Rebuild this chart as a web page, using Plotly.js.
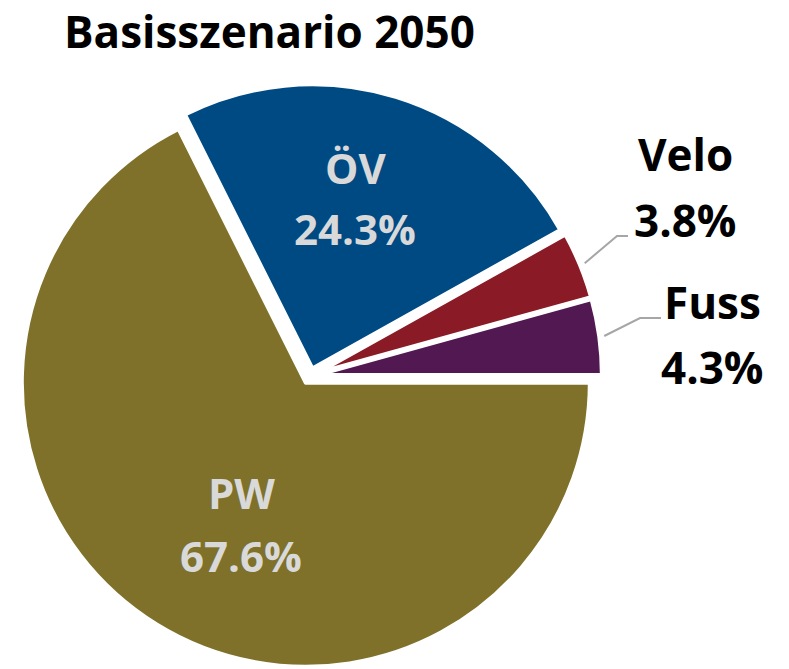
<!DOCTYPE html>
<html>
<head>
<meta charset="utf-8">
<script src="https://cdn.plot.ly/plotly-3.0.1.min.js"></script>
<style>html,body{margin:0;padding:0;background:#fff;}#chart{width:789px;height:669px;}</style>
</head>
<body>
<div id="chart"></div>
<script>
// ---- data ----
var categories = ["Fuss", "Velo", "ÖV", "PW"];
var shares = [4.3, 3.8, 24.3, 67.6];
var sliceColors = ["#521852", "#8a1b26", "#004a84", "#7f7129"];
var chartTitle = "Basisszenario 2050";

// ---- geometry (layout) ----
var W = 789, H = 669;
var CX = 310, CY = 376, R = 284, PULL = 0.028;
var half = R * (1 + PULL);
var FONT = "Open Sans, Lato, sans-serif";

var total = shares.reduce(function (a, b) { return a + b; }, 0);

var trace = {
  type: "pie",
  labels: categories,
  values: shares,
  sort: false,
  direction: "counterclockwise",
  // first slice (Fuss) begins at 3 o'clock and runs counterclockwise
  rotation: 90 - 360 * shares[0] / total,
  pull: PULL,
  marker: { colors: sliceColors, line: { color: "#ffffff", width: 4 } },
  textinfo: "none",
  hoverinfo: "label+percent",
  showlegend: false,
  domain: {
    x: [(CX - half) / W, (CX + half) / W],
    y: [(H - (CY + half)) / H, (H - (CY - half)) / H]
  }
};

function midAngle(i) {
  var before = 0;
  for (var k = 0; k < i; k++) before += shares[k];
  return (before + shares[i] / 2) / total * 2 * Math.PI; // ccw from 3 o'clock
}
function px2paper(x, y) { return [x / W, 1 - y / H]; }
function pctText(i) { return (shares[i] / total * 100).toFixed(1) + "%"; }

// label placement (layout): text anchor pixels for name line and percent line
var labelPlaces = [
  { idx: 0, x: 712, nameY: 302, pctY: 367, color: "#000000", size: 44,
    leader: { elbow: [640, 318], end: [661, 318] } },
  { idx: 1, x: 685, nameY: 154, pctY: 220, color: "#000000", size: 44,
    leader: { elbow: [617, 236], end: [628, 236] } },
  { idx: 2, x: 355, nameY: 167, pctY: 229, color: "#d9d9d9", size: 42 },
  { idx: 3, x: 241, nameY: 492, pctY: 555, color: "#d9d9d9", size: 42 }
];

var annotations = [], shapes = [];
labelPlaces.forEach(function (o) {
  var f = { family: FONT, size: o.size, color: o.color, weight: 700 };
  var n = px2paper(o.x, o.nameY), p = px2paper(o.x, o.pctY);
  annotations.push({
    xref: "paper", yref: "paper", x: n[0], y: n[1], xanchor: "center", yanchor: "middle",
    showarrow: false, text: categories[o.idx], font: f
  });
  annotations.push({
    xref: "paper", yref: "paper", x: p[0], y: p[1], xanchor: "center", yanchor: "middle",
    showarrow: false, text: pctText(o.idx), font: f
  });
  if (o.leader) {
    var a = midAngle(o.idx);
    var rr = half + 5;
    var sx = CX + rr * Math.cos(a), sy = CY - rr * Math.sin(a);
    var p0 = px2paper(sx, sy), p1 = px2paper(o.leader.elbow[0], o.leader.elbow[1]),
        p2 = px2paper(o.leader.end[0], o.leader.end[1]);
    shapes.push({
      type: "path", xref: "paper", yref: "paper",
      path: "M " + p0[0] + "," + p0[1] + " L " + p1[0] + "," + p1[1] + " L " + p2[0] + "," + p2[1],
      line: { color: "#a6a6a6", width: 2 }
    });
  }
});

var layout = {
  width: W, height: H,
  margin: { l: 0, r: 0, t: 0, b: 0 },
  paper_bgcolor: "#ffffff",
  title: {
    text: chartTitle,
    x: 64 / W, xanchor: "left", xref: "paper",
    y: 1 - 33 / H, yanchor: "middle", yref: "container",
    font: { family: FONT, size: 44, color: "#000000", weight: 700 }
  },
  annotations: annotations,
  shapes: shapes
};

Plotly.newPlot("chart", [trace], layout, { displayModeBar: false, staticPlot: true });
</script>
</body>
</html>
